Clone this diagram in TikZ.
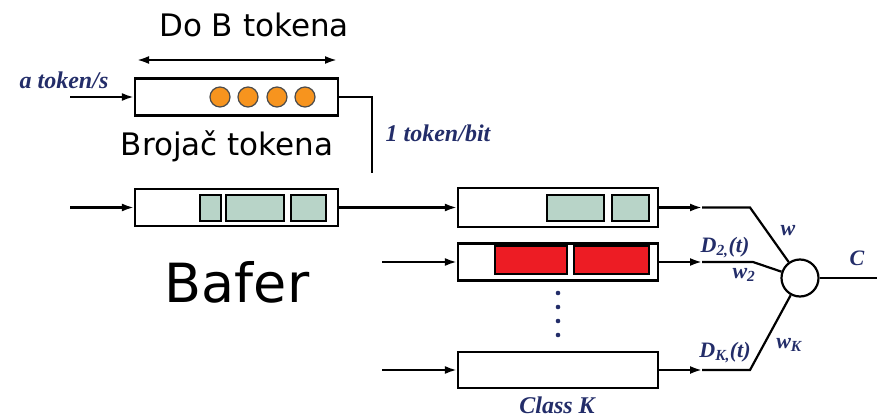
\documentclass[tikz,border=0pt]{standalone}
\usepackage{fontspec}
\setmainfont{DejaVu Sans}
\newfontfamily\lblfont{Liberation Serif}
\usepackage{tikz}
\usetikzlibrary{positioning}
\usetikzlibrary{calc}
\usetikzlibrary{arrows.meta}
\definecolor{lblblue}{RGB}{35,45,105}
\definecolor{cellgreen}{RGB}{184,212,200}
\definecolor{cellred}{RGB}{237,28,36}
\definecolor{tokenorange}{RGB}{247,148,30}
\tikzset{>={Latex[length=12pt,width=8pt]},
queue/.style={draw,minimum height=37pt,inner sep=0pt},
cellg/.style={draw,fill=cellgreen},
cellr/.style={draw,fill=cellred},
lbl/.style={text=lblblue,font=\lblfont\bfseries\itshape\fontsize{24}{24}\selectfont,inner sep=0pt,anchor=base},
mlbl/.style={text=lblblue,font=\lblfont\bfseries\itshape\fontsize{22}{22}\selectfont,inner sep=0pt,anchor=base},
big/.style={font=\fontsize{31}{31}\selectfont,inner sep=0pt,anchor=base}}

\begin{document}
\begin{tikzpicture}[x=1pt,y=-1pt,line width=2.2pt]
\useasboundingbox (0,0) rectangle (877,417);
% token bucket and buffer
\node (tb) at (236.5,97) [queue,minimum width=203pt] {};
\node (buf) at (236.5,207.5) [queue,minimum width=203pt] {};
\foreach \x in {220, 248, 277, 305} {
\filldraw[fill=tokenorange,draw=black!70,line width=1.2pt] (\x,97) circle (10);
}
\foreach \a/\b in {200/221, 226/284, 291/326} {
\draw[cellg] (\a,195) rectangle (\b,221);
}
\node (dob) at (254,37) [big] {Do B tokena};
\coordinate (da) at (137,60);
\coordinate (db) at (337,60);
\draw[<->] (da) -- (db);
\node (broj) at (227,155) [big] {Broja\v{c} tokena};
\node (baf) at (237,302) [big,font=\fontsize{54}{54}\selectfont] {Bafer};
\node (rate) at (64,89) [lbl] {a token/s};
\node (bit) at (438,141) [lbl] {1 token/bit};
\coordinate (in0) at (70,97);
\coordinate (in1) at (70,207.5);
\draw[->] (in0) -- (tb);
\draw[->] (in1) -- (buf);
\coordinate (tk) at (372,173);
\draw (tb.east) -| (tk);

% class queues
\node (q1) at (558,207.5) [queue,minimum width=200pt,minimum height=39pt] {};
\node (q2) at (558,262) [queue,minimum width=200pt] {};
\node (q3) at (558,370) [queue,minimum width=200pt,minimum height=36pt] {};
\foreach \a/\b in {547/604, 612/649} {
\draw[cellg] (\a,195) rectangle (\b,221);
}
\foreach \a/\b in {495/567, 574/649} {
\draw[cellr] (\a,246) rectangle (\b,274);
}
\foreach \y in {293, 307, 321, 335} {
\fill[lblblue] (558,\y) circle (2.3);
}
\node (cls) at (557,413) [lbl] {Class K};
\draw[->] (buf) -- (q1);
\coordinate (in2) at (382,262);
\coordinate (in3) at (382,370);
\draw[->] (in2) -- (q2);
\draw[->] (in3) -- (q3);

% scheduler
\node (s) at (800,278) [draw,circle,minimum size=37pt,inner sep=0pt] {};
\coordinate (out) at (877,278);
\draw (s) -- (out);
\foreach \i/\y/\b in {1/207.5/750, 2/262/753, 3/370/750} {
\coordinate (t\i) at (702,\y);
\coordinate (b\i) at (\b,\y);
\draw[->] (q\i) -- (t\i);
\draw (t\i) -- (b\i) -- (s);
}
\node (c) at (857,265) [mlbl] {C};
\node (w1) at (788,235) [mlbl] {w};
\node (d2) at (725,252) [mlbl] {D\textsubscript{2,}(t)};
\node (w2) at (744,278) [mlbl] {w\textsubscript{2}};
\node (dk) at (725,357) [mlbl] {D\textsubscript{K,}(t)};
\node (wk) at (789,348) [mlbl] {w\textsubscript{K}};
\end{tikzpicture}
\end{document}
